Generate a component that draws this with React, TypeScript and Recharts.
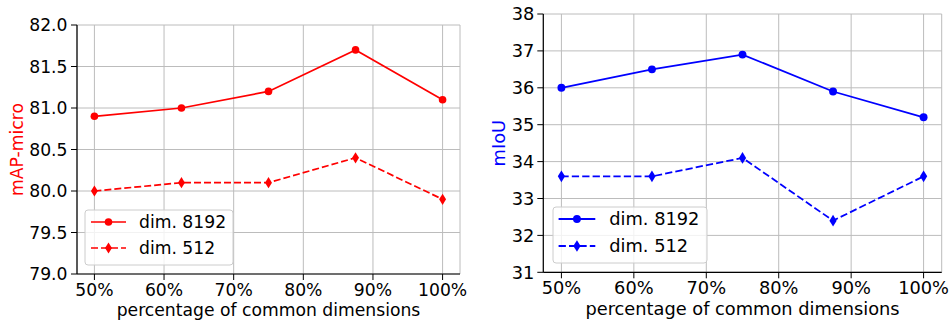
import React from 'react';
import { LineChart, Line, XAxis, YAxis, CartesianGrid, Legend, Label } from 'recharts';

// x positions: percentage of common dimensions
const pct = [50, 62.5, 75, 87.5, 100];
const pctTicks = [50, 60, 70, 80, 90, 100];

// left panel: mAP-micro
const mapDim8192 = [80.9, 81.0, 81.2, 81.7, 81.1];
const mapDim512 = [80.0, 80.1, 80.1, 80.4, 79.9];
const mapTicks = [79.0, 79.5, 80.0, 80.5, 81.0, 81.5, 82.0];

// right panel: mIoU
const miouDim8192 = [36.0, 36.5, 36.9, 35.9, 35.2];
const miouDim512 = [33.6, 33.6, 34.1, 32.4, 33.6];
const miouTicks = [31, 32, 33, 34, 35, 36, 37, 38];

const seriesNames = ['dim. 8192', 'dim. 512'];

const FONT = '"DejaVu Sans", sans-serif';
const GRID = '#bcbcbc';

type Geo = { w: number; h: number; left: number; right: number; top: number; bottom: number };
type Leg = { x: number; y: number; w: number; h: number; l0: number; l1: number; tx: number; r1: number; r2: number };

const Diamond = (props: any) => {
  const { cx, cy, color, size } = props;
  if (cx == null || cy == null) return null;
  const hh = size, hw = size * 0.62;
  return <path d={`M${cx},${cy - hh}L${cx + hw},${cy}L${cx},${cy + hh}L${cx - hw},${cy}Z`} fill={color} />;
};

type PanelProps = {
  color: string;
  yLabel: string;
  big: number[];
  small: number[];
  yTicks: number[];
  yFmt: (v: number) => string;
  geo: Geo;
  leg: Leg;
  fontSize: number;
  yLabelX: number;
  tickMargin: number;
  xLabelDy: number;
  scale: number;
};

const Panel = ({ color, yLabel, big, small, yTicks, yFmt, geo, leg, fontSize, yLabelX, tickMargin, xLabelDy, scale }: PanelProps) => {
  const data = pct.map((p, i) => ({ pct: p, big: big[i], small: small[i] }));
  const yW = 60;
  const xH = 45;
  const plotCx = (geo.left + geo.right) / 2;
  const plotCy = (geo.top + geo.bottom) / 2;
  const yDomain = [yTicks[0], yTicks[yTicks.length - 1]];
  const lw = 1.7 * scale;

  const legendContent = () => (
    <svg width={leg.w + 2} height={leg.h + 2} style={{ display: 'block' }}>
      <rect x={1} y={1} width={leg.w} height={leg.h} rx={3} fill="#fff" fillOpacity={0.8} stroke="#cccccc" />
      <line x1={leg.l0} x2={leg.l1} y1={leg.r1} y2={leg.r1} stroke={color} strokeWidth={lw} />
      <circle cx={(leg.l0 + leg.l1) / 2} cy={leg.r1} r={3.8 * scale} fill={color} />
      <text x={leg.tx} y={leg.r1 + fontSize * 0.36} fontSize={fontSize} fontFamily={FONT} fill="#000">{seriesNames[0]}</text>
      <line x1={leg.l0} x2={leg.l1} y1={leg.r2} y2={leg.r2} stroke={color} strokeWidth={lw} strokeDasharray={`${7 * scale} ${3 * scale}`} />
      <Diamond cx={(leg.l0 + leg.l1) / 2} cy={leg.r2} color={color} size={5.6 * scale} />
      <text x={leg.tx} y={leg.r2 + fontSize * 0.36} fontSize={fontSize} fontFamily={FONT} fill="#000">{seriesNames[1]}</text>
    </svg>
  );

  return (
    <LineChart
      width={geo.w}
      height={geo.h}
      data={data}
      margin={{ top: geo.top, right: geo.w - geo.right, left: geo.left - yW, bottom: geo.h - geo.bottom - xH }}
      style={{ fontFamily: FONT }}
    >
      <CartesianGrid stroke={GRID} strokeWidth={1} />
      <XAxis
        dataKey="pct"
        type="number"
        domain={[47.5, 102.5]}
        ticks={pctTicks}
        interval={0}
        tickFormatter={(v: number) => `${v}%`}
        tick={{ fill: '#000', fontSize }}
        tickSize={6}
        tickMargin={tickMargin}
        tickLine={{ stroke: '#000' }}
        axisLine={{ stroke: '#000', strokeWidth: 1.2 }}
        height={xH}
      >
        <Label
          content={() => (
            <text x={plotCx} y={geo.bottom + xLabelDy} textAnchor="middle" fontSize={fontSize} fontFamily={FONT} fill="#000">
              percentage of common dimensions
            </text>
          )}
        />
      </XAxis>
      <XAxis xAxisId="top" orientation="top" type="number" domain={[47.5, 102.5]} tick={false} tickLine={false} height={0} axisLine={{ stroke: '#000', strokeWidth: 1.2 }} />
      <YAxis
        type="number"
        domain={yDomain}
        ticks={yTicks}
        interval={0}
        tickFormatter={yFmt}
        tick={{ fill: '#000', fontSize }}
        tickSize={6}
        tickMargin={tickMargin}
        tickLine={{ stroke: '#000' }}
        axisLine={{ stroke: '#000', strokeWidth: 1.2 }}
        width={yW}
      >
        <Label
          content={() => (
            <text
              x={yLabelX}
              y={plotCy}
              transform={`rotate(-90 ${yLabelX} ${plotCy})`}
              textAnchor="middle"
              dominantBaseline="central"
              fontSize={fontSize}
              fontFamily={FONT}
              fill={color}
            >
              {yLabel}
            </text>
          )}
        />
      </YAxis>
      <YAxis yAxisId="right" orientation="right" type="number" domain={yDomain} tick={false} tickLine={false} width={0} axisLine={{ stroke: '#000', strokeWidth: 1.2 }} />
      <Line
        dataKey="big"
        stroke={color}
        strokeWidth={lw}
        dot={{ r: 3.8 * scale, fill: color, stroke: color, strokeWidth: 0 }}
        activeDot={false}
        isAnimationActive={false}
      />
      <Line
        dataKey="small"
        stroke={color}
        strokeWidth={lw}
        strokeDasharray={`${7 * scale} ${3 * scale}`}
        dot={(p: any) => <Diamond key={`d-${p.index}`} cx={p.cx} cy={p.cy} color={color} size={5.6 * scale} />}
        activeDot={false}
        isAnimationActive={false}
      />
      <Legend
        layout="horizontal"
        verticalAlign="middle"
        align="center"
        content={legendContent}
        wrapperStyle={{ position: 'absolute', left: leg.x - 1, top: leg.y - 1, width: leg.w + 2, height: leg.h + 2 }}
      />
    </LineChart>
  );
};

export default function App() {
  return (
    <div style={{ position: 'absolute', left: 0, top: 0, width: 951, height: 322, background: '#fff' }}>
      <div style={{ position: 'absolute', left: 0, top: 0 }}>
        <Panel
          color="#ff0000"
          yLabel="mAP-micro"
          big={mapDim8192}
          small={mapDim512}
          yTicks={mapTicks}
          yFmt={(v) => v.toFixed(1)}
          geo={{ w: 475, h: 322, left: 77, right: 460, top: 25, bottom: 274 }}
          leg={{ x: 85, y: 210, w: 148, h: 55, l0: 7, l1: 42, tx: 55, r1: 13, r2: 39 }}
          fontSize={17.2}
          yLabelX={17}
          tickMargin={3.5}
          xLabelDy={41.5}
          scale={1}
        />
      </div>
      <div style={{ position: 'absolute', left: 480, top: 0 }}>
        <Panel
          color="#0000ff"
          yLabel="mIoU"
          big={miouDim8192}
          small={miouDim512}
          yTicks={miouTicks}
          yFmt={(v) => String(v)}
          geo={{ w: 471, h: 322, left: 63.3, right: 461.7, top: 14, bottom: 272.3 }}
          leg={{ x: 72.7, y: 207, w: 154, h: 56, l0: 6.6, l1: 43.3, tx: 57.3, r1: 13, r2: 40 }}
          fontSize={17.8}
          yLabelX={19}
          tickMargin={3}
          xLabelDy={42.4}
          scale={1.04}
        />
      </div>
    </div>
  );
}
